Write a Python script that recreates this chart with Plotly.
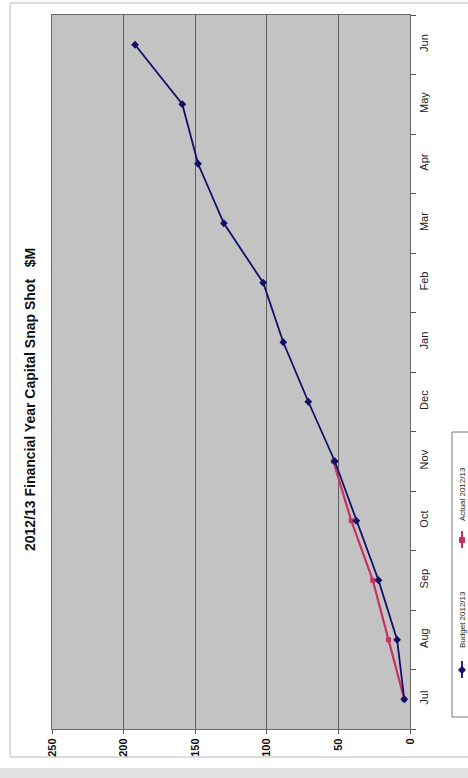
import plotly.graph_objects as go

# Financial-year capital spend, cumulative $M by month
months = ["Jul", "Aug", "Sep", "Oct", "Nov", "Dec", "Jan", "Feb", "Mar", "Apr", "May", "Jun"]
budget = [4, 9, 22, 37.5, 52.5, 71, 88.5, 102.5, 130, 148, 159, 192]
actual = [4, 15, 26, 41, 53.5]
value_ticks = [0, 50, 100, 150, 200, 250]

title_text = "2012/13 Financial Year Capital Snap Shot\u00a0\u00a0\u00a0$M"
budget_name = "Budget 2012/13"
actual_name = "Actual 2012/13"

BUDGET_COLOR = "#10106a"
ACTUAL_COLOR = "#c8305e"

W, H = 468, 778
L, R, T, B = 52, 58, 15, 49
PW, PH = W - L - R, H - T - B


def px(x):
    return (x - L) / PW


def py(y):
    return (H - B - y) / PH


def diamond_path(cx, cy, r):
    pts = [(cx, cy - r), (cx + r, cy), (cx, cy + r), (cx - r, cy)]
    return "M " + " L ".join(f"{px(x):.5f},{py(y):.5f}" for x, y in pts) + " Z"


fig = go.Figure()

# The chart is laid on its side: values run right-to-left, months bottom-to-top
fig.add_trace(go.Scatter(
    x=actual, y=months[:len(actual)], mode="lines+markers", name=actual_name,
    line=dict(color=ACTUAL_COLOR, width=2.2),
    marker=dict(symbol="square", size=5, color=ACTUAL_COLOR),
    showlegend=False,
))
fig.add_trace(go.Scatter(
    x=budget, y=months, mode="lines+markers", name=budget_name,
    line=dict(color=BUDGET_COLOR, width=1.8),
    marker=dict(symbol="diamond", size=6, color=BUDGET_COLOR),
    showlegend=False,
))

fig.update_xaxes(
    range=[250, 0], tickvals=value_ticks, ticktext=[str(v) for v in value_ticks],
    tickangle=-90, ticks="outside", ticklen=4, tickcolor="#555",
    showgrid=True, gridcolor="#5e5e5e", gridwidth=1.3,
    showline=True, linecolor="#6a6a6a", linewidth=1.2, mirror=True,
    tickfont=dict(family="Liberation Sans", size=11, color="#111", weight="bold"),
    zeroline=False, fixedrange=True,
)
fig.update_yaxes(
    type="category", categoryorder="array", categoryarray=months,
    range=[-0.5, len(months) - 0.5], side="right",
    tickangle=-90, ticks="outside", ticklen=5, tickcolor="#555", tickson="boundaries",
    showgrid=False, showline=True, linecolor="#6a6a6a", linewidth=1.2, mirror=True,
    tickfont=dict(family="Liberation Sans", size=11, color="#222"),
    ticklabelstandoff=4, zeroline=False, fixedrange=True,
)

shapes = [
    # outer chart border
    dict(type="rect", xref="paper", yref="paper", x0=px(10), x1=px(476), y0=py(757), y1=py(3),
         line=dict(color="#b8b8b8", width=1), layer="below"),
    # strip along the bottom edge
    dict(type="rect", xref="paper", yref="paper", x0=px(0), x1=px(W), y0=py(778), y1=py(768),
         line=dict(width=0), fillcolor="#e2e2e2", layer="below"),
    # legend box
    dict(type="rect", xref="paper", yref="paper", x0=px(452), x1=px(480), y0=py(717), y1=py(432),
         line=dict(color="#777", width=1), fillcolor="white", layer="below"),
    # legend samples: line + marker
    dict(type="line", xref="paper", yref="paper", x0=px(462), x1=px(462), y0=py(678), y1=py(661),
         line=dict(color=BUDGET_COLOR, width=1.8)),
    dict(type="path", xref="paper", yref="paper", path=diamond_path(462, 670, 3.5),
         line=dict(color=BUDGET_COLOR, width=1), fillcolor=BUDGET_COLOR),
    dict(type="line", xref="paper", yref="paper", x0=px(462), x1=px(462), y0=py(548), y1=py(531),
         line=dict(color=ACTUAL_COLOR, width=2)),
    dict(type="rect", xref="paper", yref="paper", x0=px(459.5), x1=px(464.5), y0=py(542.5), y1=py(537.5),
         line=dict(color=ACTUAL_COLOR, width=1), fillcolor=ACTUAL_COLOR),
]

annotations = [
    dict(text=f"<b>{title_text}</b>", xref="paper", yref="paper", x=px(30), y=py(400),
         textangle=-90, showarrow=False, xanchor="center", yanchor="middle",
         font=dict(family="Liberation Sans", size=14, color="#111")),
    dict(text=budget_name, xref="paper", yref="paper", x=px(462), y=py(620),
         textangle=-90, showarrow=False, xanchor="center", yanchor="middle",
         font=dict(family="Liberation Sans", size=8, color="#222")),
    dict(text=actual_name, xref="paper", yref="paper", x=px(462), y=py(494),
         textangle=-90, showarrow=False, xanchor="center", yanchor="middle",
         font=dict(family="Liberation Sans", size=8, color="#222")),
]

fig.update_layout(
    width=W, height=H,
    margin=dict(l=L, r=R, t=T, b=B, pad=0),
    paper_bgcolor="white", plot_bgcolor="#c3c3c3",
    shapes=shapes, annotations=annotations,
    showlegend=False,
)

fig.write_html("out.html")
